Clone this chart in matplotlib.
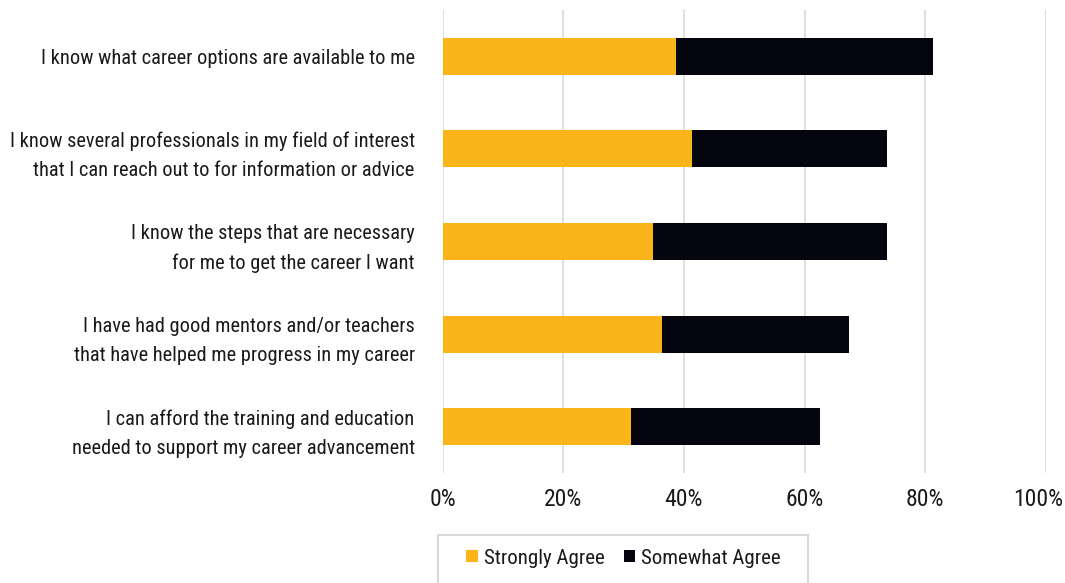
import matplotlib
matplotlib.use("Agg")
import matplotlib.pyplot as plt
from matplotlib.patches import Patch, Rectangle
from matplotlib.ticker import PercentFormatter
from matplotlib.transforms import ScaledTranslation

plt.rcParams['font.family'] = ['Roboto Condensed', 'Liberation Sans Narrow', 'Roboto', 'DejaVu Sans']

categories = [
    "I know what career options are available to me",
    "I know several professionals in my field of interest\nthat I can reach out to for information or advice",
    "I know the steps that are necessary\nfor me to get the career I want",
    "I have had good mentors and/or teachers\nthat have helped me progress in my career",
    "I can afford the training and education\nneeded to support my career advancement",
]
strongly_agree = [38.7, 41.3, 34.9, 36.3, 31.3]
somewhat_agree = [42.5, 32.4, 38.8, 31.1, 31.2]
series_names = ["Strongly Agree", "Somewhat Agree"]
colors = ["#FBB41A", "#05050F"]
xticks = [0, 20, 40, 60, 80, 100]

fig = plt.figure(figsize=(10.65, 5.83), dpi=100)
ax = fig.add_axes([442.5 / 1065, 1 - 473 / 583, (1046 - 442.5) / 1065, 463 / 583])

y = list(range(len(categories)))
ax.barh(y, strongly_agree, height=0.4, color=colors[0], zorder=3)
ax.barh(y, somewhat_agree, left=strongly_agree, height=0.4, color=colors[1], zorder=3)

ax.set_xlim(0, 100)
ax.set_ylim(len(categories) - 0.5, -0.5)
ax.set_xticks(xticks)
ax.xaxis.set_major_formatter(PercentFormatter(decimals=0))
ax.set_yticks(y)
ax.set_yticklabels(categories, fontsize=14.7, color="#1a1a1a", linespacing=1.65)
ax.tick_params(axis="x", labelsize=17, colors="#1a1a1a", length=0, pad=11)
ax.tick_params(axis="y", length=0, pad=20)
ax.grid(axis="x", color="#d9d9d9", linewidth=1.2, zorder=0)
for s in ax.spines.values():
    s.set_visible(False)

# keep the last tick label inside the figure
fig.canvas.draw()
last = ax.get_xticklabels()[-1]
last.set_horizontalalignment("right")
last.set_transform(last.get_transform() + ScaledTranslation(0.17, 0, fig.dpi_scale_trans))

# legend box
fig.patches.append(Rectangle((438 / 1065, -0.02), (808 - 438) / 1065, 0.02 + 1 - 535 / 583,
                             transform=fig.transFigure, facecolor="white",
                             edgecolor="#d9d9d9", linewidth=1.5))
handles = [Patch(facecolor=c, edgecolor="none") for c in colors]
fig.legend(handles, series_names, loc="center left",
           bbox_to_anchor=(456 / 1065, 1 - 558 / 583), frameon=False,
           ncol=2, fontsize=15, handlelength=0.55, handleheight=0.55,
           handletextpad=0.3, columnspacing=0.9, borderpad=0, labelcolor="#1a1a1a")

fig.savefig("out.png", dpi=100)
